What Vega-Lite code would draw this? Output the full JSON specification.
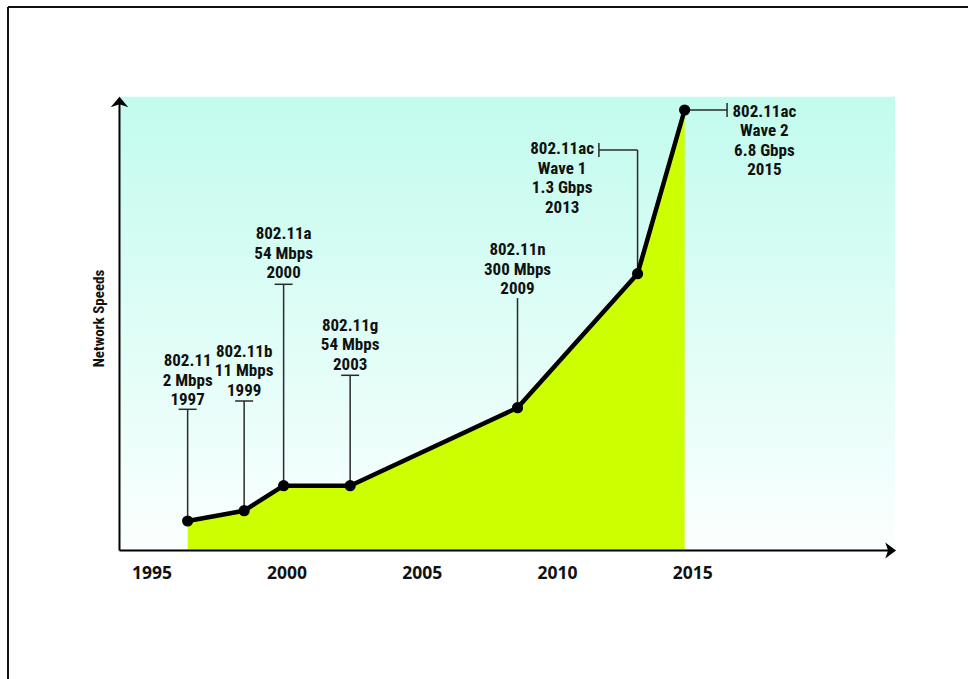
{
  "$schema": "https://vega.github.io/schema/vega-lite/v6.json",
  "width": 960,
  "height": 672,
  "autosize": {"type": "none"},
  "padding": {"left": 8, "top": 7, "right": 0, "bottom": 0},
  "background": "#ffffff",
  "config": {"view": {"stroke": null}},
  "datasets": {
    "panel": [{"x": 1993.82, "x2": 2022.5, "y": 0, "y2": 453.8}],
    "speeds": [
      {"x": 1996.34, "y": 29.5, "lx": 1996.34, "ly": 189.5, "label": "802.11\n2 Mbps\n1997"},
      {"x": 1998.43, "y": 39.8, "lx": 1998.43, "ly": 199, "label": "802.11b\n11 Mbps\n1999"},
      {"x": 1999.89, "y": 64.8, "lx": 1999.89, "ly": 316.5, "label": "802.11a\n54 Mbps\n2000"},
      {"x": 2002.35, "y": 64.8, "lx": 2002.35, "ly": 224.7, "label": "802.11g\n54 Mbps\n2003"},
      {"x": 2008.54, "y": 142.8, "lx": 2008.54, "ly": 300.5, "label": "802.11n\n300 Mbps\n2009"},
      {"x": 2012.98, "y": 276.8, "lx": 2010.19, "ly": 401.2, "label": "802.11ac\nWave 1\n1.3 Gbps\n2013"},
      {"x": 2014.72, "y": 440.5, "lx": 2017.67, "ly": 438.7, "label": "802.11ac\nWave 2\n6.8 Gbps\n2015"}
    ],
    "leaders": [
      {"x": 1996.34, "x2": 1996.34, "y": 29.5, "y2": 141.2},
      {"x": 1998.43, "x2": 1998.43, "y": 39.8, "y2": 149.5},
      {"x": 1999.89, "x2": 1999.89, "y": 64.8, "y2": 266.2},
      {"x": 2002.35, "x2": 2002.35, "y": 64.8, "y2": 175.2},
      {"x": 2008.54, "x2": 2008.54, "y": 142.8, "y2": 252.5},
      {"x": 2012.98, "x2": 2012.98, "y": 276.8, "y2": 400.5},
      {"x": 2012.98, "x2": 2011.55, "y": 400.5, "y2": 400.5},
      {"x": 2014.72, "x2": 2016.29, "y": 440.5, "y2": 440.5}
    ],
    "caps": [
      {"x": 1996.34, "y": 141.2, "dir": "h"},
      {"x": 1998.43, "y": 149.5, "dir": "h"},
      {"x": 1999.89, "y": 266.2, "dir": "h"},
      {"x": 2002.35, "y": 175.2, "dir": "h"},
      {"x": 2011.55, "y": 400.5, "dir": "v"},
      {"x": 2016.29, "y": 440.5, "dir": "v"}
    ],
    "axislines": [
      {"x": 1993.82, "x2": 1993.82, "y": 0, "y2": 447},
      {"x": 1993.82, "x2": 2022.25, "y": 0, "y2": 0}
    ],
    "arrows": [
      {"x": 1993.82, "y": 453.8, "dir": "up"},
      {"x": 2022.54, "y": 0, "dir": "right"}
    ],
    "frame": [{"edge": "frame"}]
  },
  "layer": [
    {
      "data": {"name": "panel"},
      "mark": {
        "type": "rect",
        "fill": {
          "gradient": "linear", "x1": 0, "y1": 0, "x2": 0, "y2": 1,
          "stops": [{"offset": 0, "color": "#c2fbee"}, {"offset": 1, "color": "#fbfffe"}]
        },
        "strokeWidth": 0
      },
      "encoding": {
        "x": {
          "field": "x", "type": "quantitative",
          "scale": {"domain": [1989.697, 2025.2], "nice": false, "zero": false},
          "axis": {
            "orient": "bottom", "offset": -128.5, "values": [1995, 2000, 2005, 2010, 2015], "format": "d",
            "domain": false, "ticks": false, "grid": false, "labelPadding": 14, "labelFlush": false, "labelOverlap": false,
            "labelFont": "Open Sans", "labelFontSize": 17.5, "labelFontWeight": "bold", "labelColor": "#111111", "title": null, "zindex": 1
          }
        },
        "x2": {"field": "x2"},
        "y": {
          "field": "y", "type": "quantitative",
          "scale": {"domain": [-128.5, 543.5], "nice": false, "zero": false},
          "axis": {
            "orient": "left", "offset": -111.5, "domain": false, "ticks": false, "labels": false, "grid": false,
            "title": "Network Speeds", "titleFont": "Liberation Sans Narrow, Roboto Condensed, Liberation Sans", "titleFontSize": 15,
            "titleFontWeight": "bold", "titleColor": "#111111", "titleX": -16.5, "titleY": 311,
            "titleBaseline": "alphabetic", "titleAngle": -90, "titleAlign": "center", "zindex": 1
          }
        },
        "y2": {"field": "y2"}
      }
    },
    {
      "data": {"name": "speeds"},
      "mark": {"type": "area", "color": "#ccff00", "opacity": 1},
      "encoding": {
        "x": {"field": "x", "type": "quantitative", "scale": {"domain": [1989.697, 2025.2], "nice": false, "zero": false}},
        "y": {"field": "y", "type": "quantitative", "scale": {"domain": [-128.5, 543.5], "nice": false, "zero": false}},
        "y2": {"datum": 0}
      }
    },
    {
      "data": {"name": "leaders"},
      "mark": {"type": "rule", "color": "#2a2a2a", "strokeWidth": 1.5},
      "encoding": {
        "x": {"field": "x", "type": "quantitative", "scale": {"domain": [1989.697, 2025.2], "nice": false, "zero": false}},
        "x2": {"field": "x2"},
        "y": {"field": "y", "type": "quantitative", "scale": {"domain": [-128.5, 543.5], "nice": false, "zero": false}},
        "y2": {"field": "y2"}
      }
    },
    {
      "data": {"name": "caps"},
      "transform": [{"filter": "datum.dir === 'h'"}],
      "mark": {"type": "point", "shape": "M-1,0H1", "size": 324, "filled": false, "stroke": "#2a2a2a", "strokeWidth": 1.5, "opacity": 1},
      "encoding": {
        "x": {"field": "x", "type": "quantitative", "scale": {"domain": [1989.697, 2025.2], "nice": false, "zero": false}},
        "y": {"field": "y", "type": "quantitative", "scale": {"domain": [-128.5, 543.5], "nice": false, "zero": false}}
      }
    },
    {
      "data": {"name": "caps"},
      "transform": [{"filter": "datum.dir === 'v'"}],
      "mark": {"type": "point", "shape": "M0,-1V1", "size": 196, "filled": false, "stroke": "#2a2a2a", "strokeWidth": 1.5, "opacity": 1},
      "encoding": {
        "x": {"field": "x", "type": "quantitative", "scale": {"domain": [1989.697, 2025.2], "nice": false, "zero": false}},
        "y": {"field": "y", "type": "quantitative", "scale": {"domain": [-128.5, 543.5], "nice": false, "zero": false}}
      }
    },
    {
      "data": {"name": "speeds"},
      "mark": {"type": "line", "color": "#000000", "strokeWidth": 4.5, "strokeJoin": "round"},
      "encoding": {
        "x": {"field": "x", "type": "quantitative", "scale": {"domain": [1989.697, 2025.2], "nice": false, "zero": false}},
        "y": {"field": "y", "type": "quantitative", "scale": {"domain": [-128.5, 543.5], "nice": false, "zero": false}}
      }
    },
    {
      "data": {"name": "speeds"},
      "mark": {"type": "point", "shape": "circle", "filled": true, "size": 125, "color": "#000000", "opacity": 1},
      "encoding": {
        "x": {"field": "x", "type": "quantitative", "scale": {"domain": [1989.697, 2025.2], "nice": false, "zero": false}},
        "y": {"field": "y", "type": "quantitative", "scale": {"domain": [-128.5, 543.5], "nice": false, "zero": false}}
      }
    },
    {
      "data": {"name": "axislines"},
      "mark": {"type": "rule", "color": "#000000", "strokeWidth": 2},
      "encoding": {
        "x": {"field": "x", "type": "quantitative", "scale": {"domain": [1989.697, 2025.2], "nice": false, "zero": false}},
        "x2": {"field": "x2"},
        "y": {"field": "y", "type": "quantitative", "scale": {"domain": [-128.5, 543.5], "nice": false, "zero": false}},
        "y2": {"field": "y2"}
      }
    },
    {
      "data": {"name": "arrows"},
      "transform": [{"filter": "datum.dir === 'up'"}],
      "mark": {"type": "point", "shape": "M0,0L1,1.2L0,0.85L-1,1.2Z", "size": 310, "filled": true, "color": "#000000", "opacity": 1, "strokeWidth": 0},
      "encoding": {
        "x": {"field": "x", "type": "quantitative", "scale": {"domain": [1989.697, 2025.2], "nice": false, "zero": false}},
        "y": {"field": "y", "type": "quantitative", "scale": {"domain": [-128.5, 543.5], "nice": false, "zero": false}}
      }
    },
    {
      "data": {"name": "arrows"},
      "transform": [{"filter": "datum.dir === 'right'"}],
      "mark": {"type": "point", "shape": "M0,0L-1.35,-1L-1,0L-1.35,1Z", "size": 256, "filled": true, "color": "#000000", "opacity": 1, "strokeWidth": 0},
      "encoding": {
        "x": {"field": "x", "type": "quantitative", "scale": {"domain": [1989.697, 2025.2], "nice": false, "zero": false}},
        "y": {"field": "y", "type": "quantitative", "scale": {"domain": [-128.5, 543.5], "nice": false, "zero": false}}
      }
    },
    {
      "data": {"name": "speeds"},
      "mark": {
        "type": "text", "font": "Liberation Sans Narrow, Roboto Condensed, Liberation Sans", "fontSize": 17, "fontWeight": "bold",
        "lineBreak": "\n", "lineHeight": 19.5, "baseline": "middle", "align": "center", "color": "#111111"
      },
      "encoding": {
        "x": {"field": "lx", "type": "quantitative", "scale": {"domain": [1989.697, 2025.2], "nice": false, "zero": false}},
        "y": {"field": "ly", "type": "quantitative", "scale": {"domain": [-128.5, 543.5], "nice": false, "zero": false}},
        "text": {"field": "label", "type": "nominal"}
      }
    },
    {
      "data": {"name": "frame"},
      "mark": {"type": "rule", "color": "#111111", "strokeWidth": 2},
      "encoding": {
        "x": {"datum": 1989.697, "type": "quantitative", "scale": {"domain": [1989.697, 2025.2], "nice": false, "zero": false}}
      }
    },
    {
      "data": {"name": "frame"},
      "mark": {"type": "rule", "color": "#111111", "strokeWidth": 2},
      "encoding": {
        "y": {"datum": 543.5, "type": "quantitative", "scale": {"domain": [-128.5, 543.5], "nice": false, "zero": false}}
      }
    }
  ]
}
